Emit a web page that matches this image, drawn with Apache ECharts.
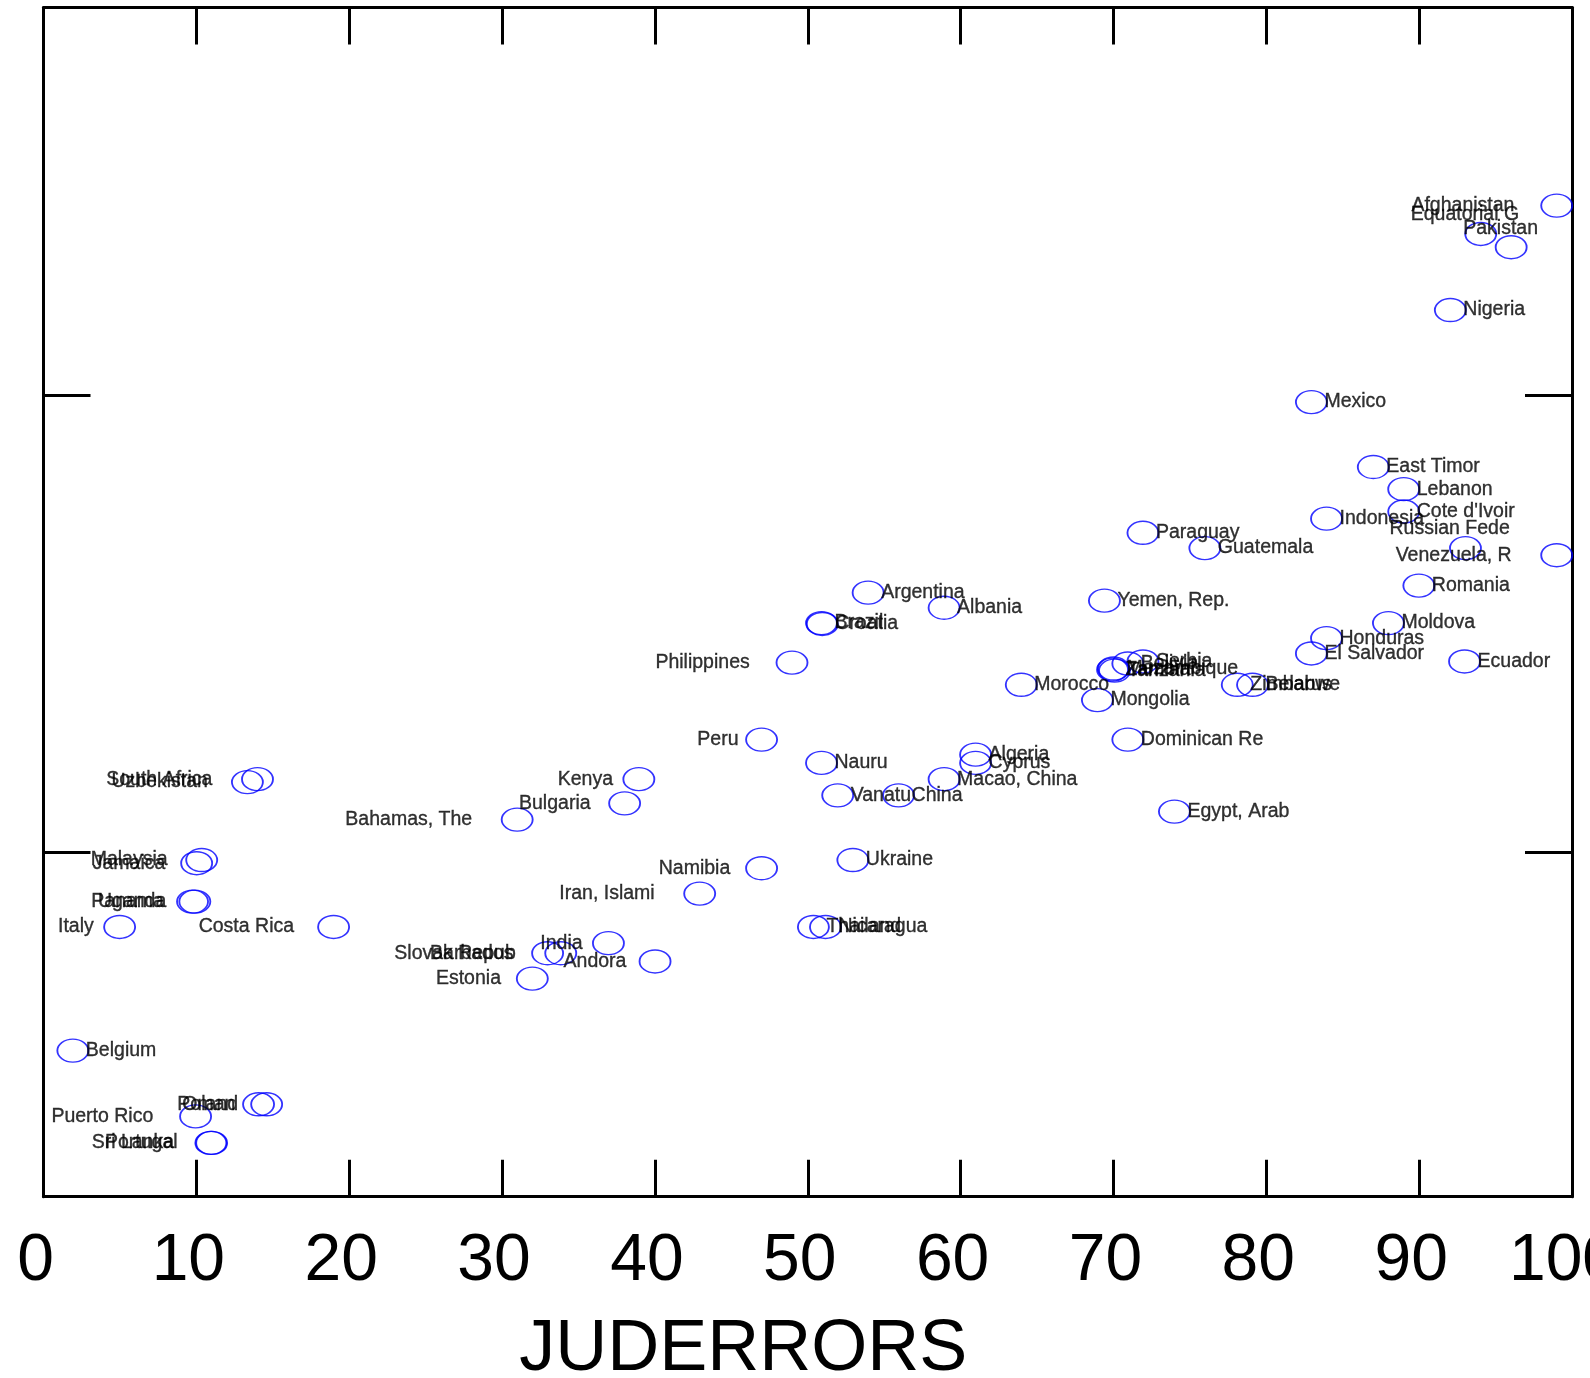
<!DOCTYPE html>
<html><head><meta charset="utf-8">
<script src="https://cdn.jsdelivr.net/npm/echarts@6/dist/echarts.min.js"></script>
<style>html,body{margin:0;padding:0;background:#fff}#c{width:1590px;height:1378px}</style>
</head><body><div id="c"></div>
<script>
// ---- data ----
const countries = ["Afghanistan","Equatorial G","Pakistan","Nigeria","Mexico","East Timor","Lebanon","Cote d'Ivoir","Indonesia","Russian Fede","Venezuela, R","Paraguay","Guatemala","Romania","Argentina","Albania","Yemen, Rep.","Moldova","Brazil","Croatia","Philippines","Honduras","El Salvador","Ecuador","Bolivia","Serbia","Zambia","Mozambique","Tanzania","Zimbabwe","Belarus","Morocco","Mongolia","Dominican Re","Peru","Nauru","Algeria","Cyprus","Macao, China","Vanatu","China","Egypt, Arab","South Africa","Uzbekistan","Kenya","Bulgaria","Bahamas, The","Malaysia","Jamaica","Uganda","Panama","Italy","Costa Rica","Namibia","Iran, Islami","Ukraine","Thailand","Nicaragua","India","Barbados","Slovak Repub","Andora","Estonia","Belgium","Oman","Poland","Puerto Rico","Sri Lanka","Portugal"];
const juderrors = [99.0,94.03,96.02,92.04,82.95,87.0,88.99,88.99,83.94,93.03,99.0,71.93,75.98,89.98,53.95,58.92,69.41,87.99,50.90,50.95,48.97,83.94,82.95,92.97,70.94,71.93,69.94,70.0,70.07,78.1,79.1,63.97,68.95,70.94,46.98,50.90,60.98,60.98,58.92,51.96,55.94,73.99,14.0,13.34,38.95,38.02,30.99,10.35,10.02,9.90,9.75,4.98,18.98,46.98,42.93,52.95,50.37,51.16,36.96,32.98,33.84,40.01,31.98,1.92,14.07,14.60,9.95,10.95,11.0];
const yValues = [4.829,4.705,4.647,4.372,3.969,3.685,3.588,3.490,3.459,3.330,3.299,3.397,3.330,3.166,3.135,3.069,3.100,3.002,3.002,2.998,2.829,2.936,2.869,2.834,2.825,2.834,2.798,2.803,2.794,2.732,2.732,2.732,2.665,2.492,2.492,2.390,2.426,2.390,2.319,2.248,2.248,2.177,2.319,2.306,2.319,2.213,2.142,1.965,1.951,1.783,1.783,1.672,1.672,1.929,1.818,1.965,1.672,1.672,1.601,1.557,1.557,1.521,1.446,1.131,0.896,0.896,0.843,0.727,0.727];
// label clock position (3 = right, 9 = left, 12 = above)
const labelClock = [9,12,12,3,3,3,3,3,3,12,9,3,3,3,3,3,3,3,3,3,9,3,3,3,3,3,3,3,3,3,3,3,3,3,9,3,3,3,3,3,3,3,9,9,9,9,9,9,9,9,9,9,9,9,9,3,3,3,9,9,9,9,9,3,9,9,9,9,9];
const xTickValues = [0,10,20,30,40,50,60,70,80,90,100];
const yTickValues = [2,4];
const xTitle = "JUDERRORS";

// ---- chart ----
const FONT = "'Liberation Sans', Arial, Helvetica, sans-serif";
function labelFor(name, clock) {
  const n = name.length;
  const base = {show: true, formatter: name, position: 'inside', verticalAlign: 'middle',
    color: '#000', fontSize: 19.5, fontFamily: FONT, textBorderColor: '#000', textBorderWidth: 0.35};
  if (clock === 3) return Object.assign(base, {align: 'left', padding: [0, 0, 0, 13]});
  if (clock === 9) return Object.assign(base, {align: 'right', padding: [0, (12 + 2.7 * n) * 1.014, 0, 0]});
  return Object.assign(base, {align: 'center', verticalAlign: 'bottom', padding: [0, 2 * 1.3 * n * 1.014, 9, 0]});
}
const points = countries.map((c, i) => ({
  name: c, value: [juderrors[i], yValues[i]], label: labelFor(c, labelClock[i])
}));

const lineStyle = {color: '#000', width: 3};
const chart = echarts.init(document.getElementById('c'), null, {renderer: 'canvas'});
chart.setOption({
  animation: false,
  backgroundColor: '#fff',
  grid: {left: 43.5, right: 18, top: 7.5, bottom: 181.3, containLabel: false, outerBoundsMode: 'none'},
  xAxis: [{
    type: 'value', position: 'bottom', min: xTickValues[0], max: xTickValues[xTickValues.length - 1], interval: 10,
    axisLine: {show: true, onZero: false, lineStyle: lineStyle},
    axisTick: {show: true, inside: true, length: 37, lineStyle: lineStyle},
    axisLabel: {show: true, margin: 32, fontSize: 66, color: '#000', fontFamily: FONT, padding: [0, 16, 0, 0]},
    splitLine: {show: false},
    name: xTitle, nameLocation: 'middle', nameGap: 117,
    nameTextStyle: {fontSize: 72, color: '#000', fontFamily: FONT, padding: [0, 129, 0, 0]}
  }, {
    type: 'value', position: 'top', min: xTickValues[0], max: xTickValues[xTickValues.length - 1], interval: 10,
    axisLine: {show: true, onZero: false, lineStyle: lineStyle},
    axisTick: {show: true, inside: true, length: 37, lineStyle: lineStyle},
    axisLabel: {show: false}, splitLine: {show: false}
  }],
  yAxis: [{
    type: 'value', position: 'left', min: 0.4915, max: 5.696,
    axisLine: {show: true, onZero: false, lineStyle: lineStyle},
    axisTick: {show: true, inside: true, length: 47, lineStyle: lineStyle, customValues: yTickValues},
    axisLabel: {show: false, customValues: yTickValues}, splitLine: {show: false}
  }, {
    type: 'value', position: 'right', min: 0.4915, max: 5.696,
    axisLine: {show: true, onZero: false, lineStyle: lineStyle},
    axisTick: {show: true, inside: true, length: 47, lineStyle: lineStyle, customValues: yTickValues},
    axisLabel: {show: false, customValues: yTickValues}, splitLine: {show: false}
  }],
  series: [{
    type: 'scatter', xAxisIndex: 0, yAxisIndex: 0, silent: true,
    symbol: 'circle', symbolSize: [31, 23],
    itemStyle: {color: 'rgba(0,0,0,0)', borderColor: '#0000ff', borderWidth: 1.6},
    data: points,
    labelLayout: {hideOverlap: false}
  }]
});
</script></body></html>
